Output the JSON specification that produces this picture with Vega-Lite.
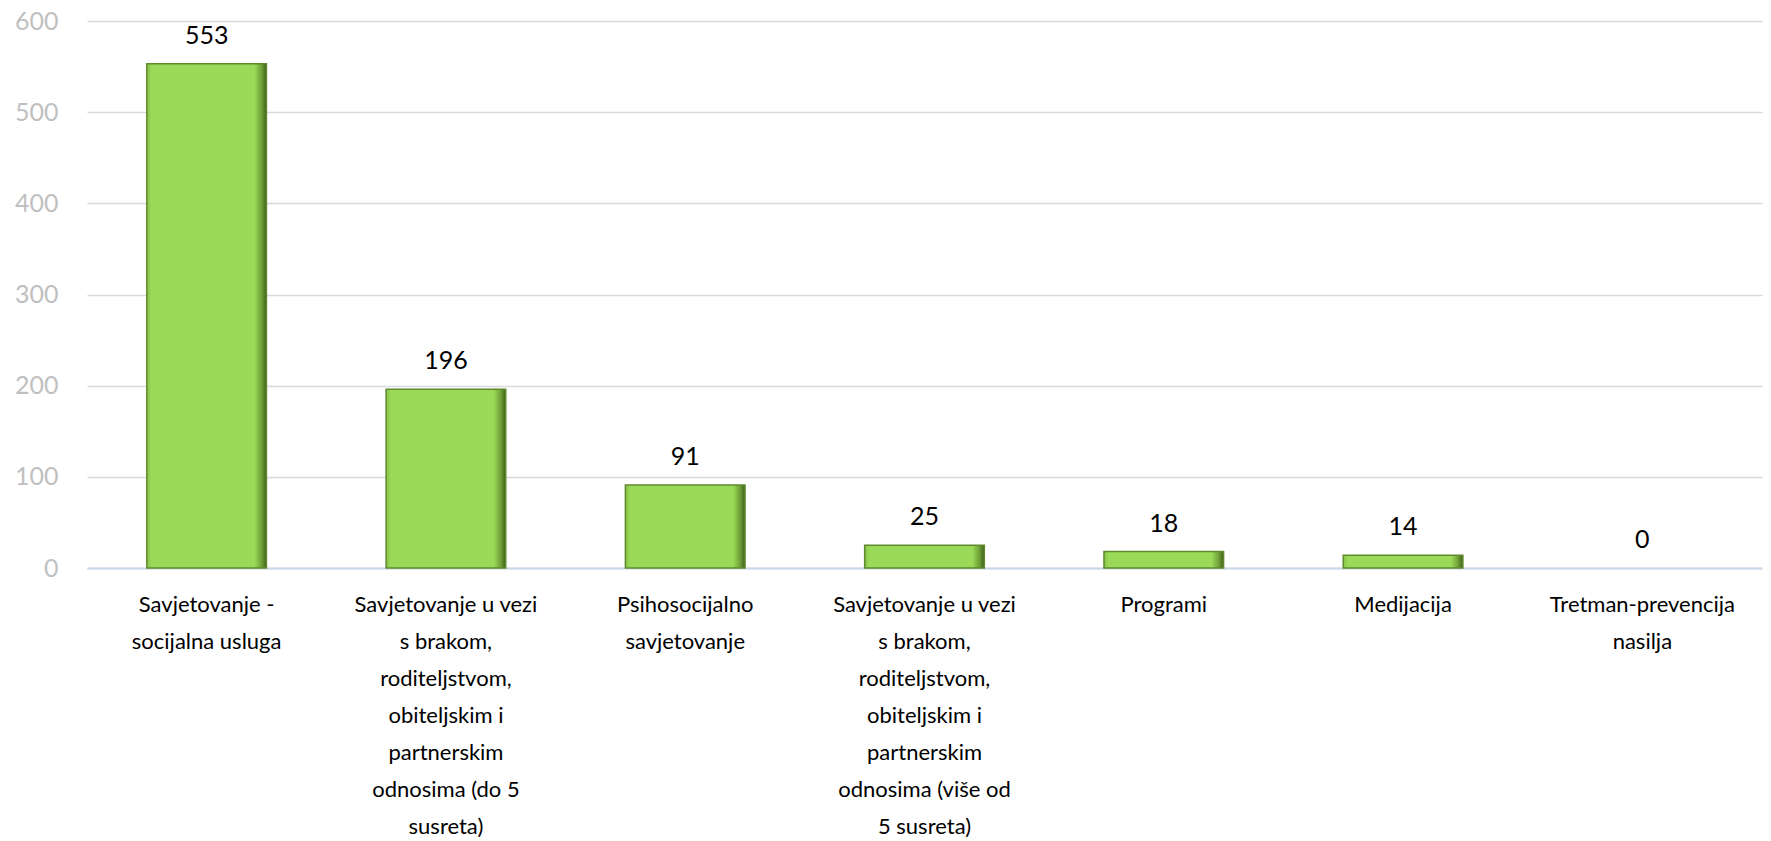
{
  "$schema": "https://vega.github.io/schema/vega-lite/v6.json",
  "autosize": {"type": "none"},
  "width": 1675,
  "height": 547,
  "padding": {"left": 87, "top": 21, "right": 9, "bottom": 273},
  "background": "#ffffff",
  "config": {"view": {"stroke": null}},
  "data": {"values": [
    {"cat": "Savjetovanje -|socijalna usluga", "value": 553},
    {"cat": "Savjetovanje u vezi|s brakom,|roditeljstvom,|obiteljskim i|partnerskim|odnosima (do 5|susreta)", "value": 196},
    {"cat": "Psihosocijalno|savjetovanje", "value": 91},
    {"cat": "Savjetovanje u vezi|s brakom,|roditeljstvom,|obiteljskim i|partnerskim|odnosima (više od|5 susreta)", "value": 25},
    {"cat": "Programi", "value": 18},
    {"cat": "Medijacija", "value": 14},
    {"cat": "Tretman-prevencija|nasilja", "value": 0}
  ]},
  "encoding": {
    "x": {
      "field": "cat", "type": "nominal", "sort": null,
      "scale": {"paddingInner": 0.5, "paddingOuter": 0.25},
      "axis": {
        "title": null, "labelAngle": 0, "ticks": false,
        "domainColor": "#C8D6EA", "domainWidth": 2,
        "labelExpr": "split(datum.label, '|')",
        "labelFont": "Lato", "labelFontSize": 22,
        "labelColor": "#000000", "labelLineHeight": 37, "labelPadding": 26,
        "labelLimit": 0
      }
    },
    "y": {
      "field": "value", "type": "quantitative",
      "scale": {"domain": [0, 600], "nice": false},
      "axis": {
        "title": null, "values": [0, 100, 200, 300, 400, 500, 600],
        "domain": false, "ticks": false, "grid": true,
        "gridColor": "#D9D9D9", "gridWidth": 1.5,
        "labelFont": "Lato", "labelFontSize": 25,
        "labelColor": "#BFBFBF", "labelPadding": 29
      }
    }
  },
  "layer": [
    {
      "transform": [{"filter": "datum.value > 0"}],
      "mark": {
        "type": "bar",
        "color": {
          "gradient": "linear", "x1": 0, "x2": 1, "y1": 0, "y2": 0,
          "stops": [
            {"offset": 0, "color": "#86C24A"},
            {"offset": 0.04, "color": "#9ADA58"},
            {"offset": 0.9, "color": "#9ADA58"},
            {"offset": 0.96, "color": "#6E9F36"},
            {"offset": 1, "color": "#3E5E1C"}
          ]
        },
        "stroke": "#5F8A2C", "strokeWidth": 1.5
      }
    },
    {
      "mark": {"type": "text", "baseline": "middle", "dy": -28, "font": "Lato", "fontSize": 25, "color": "#000000"},
      "encoding": {"text": {"field": "value", "type": "quantitative"}}
    }
  ]
}
